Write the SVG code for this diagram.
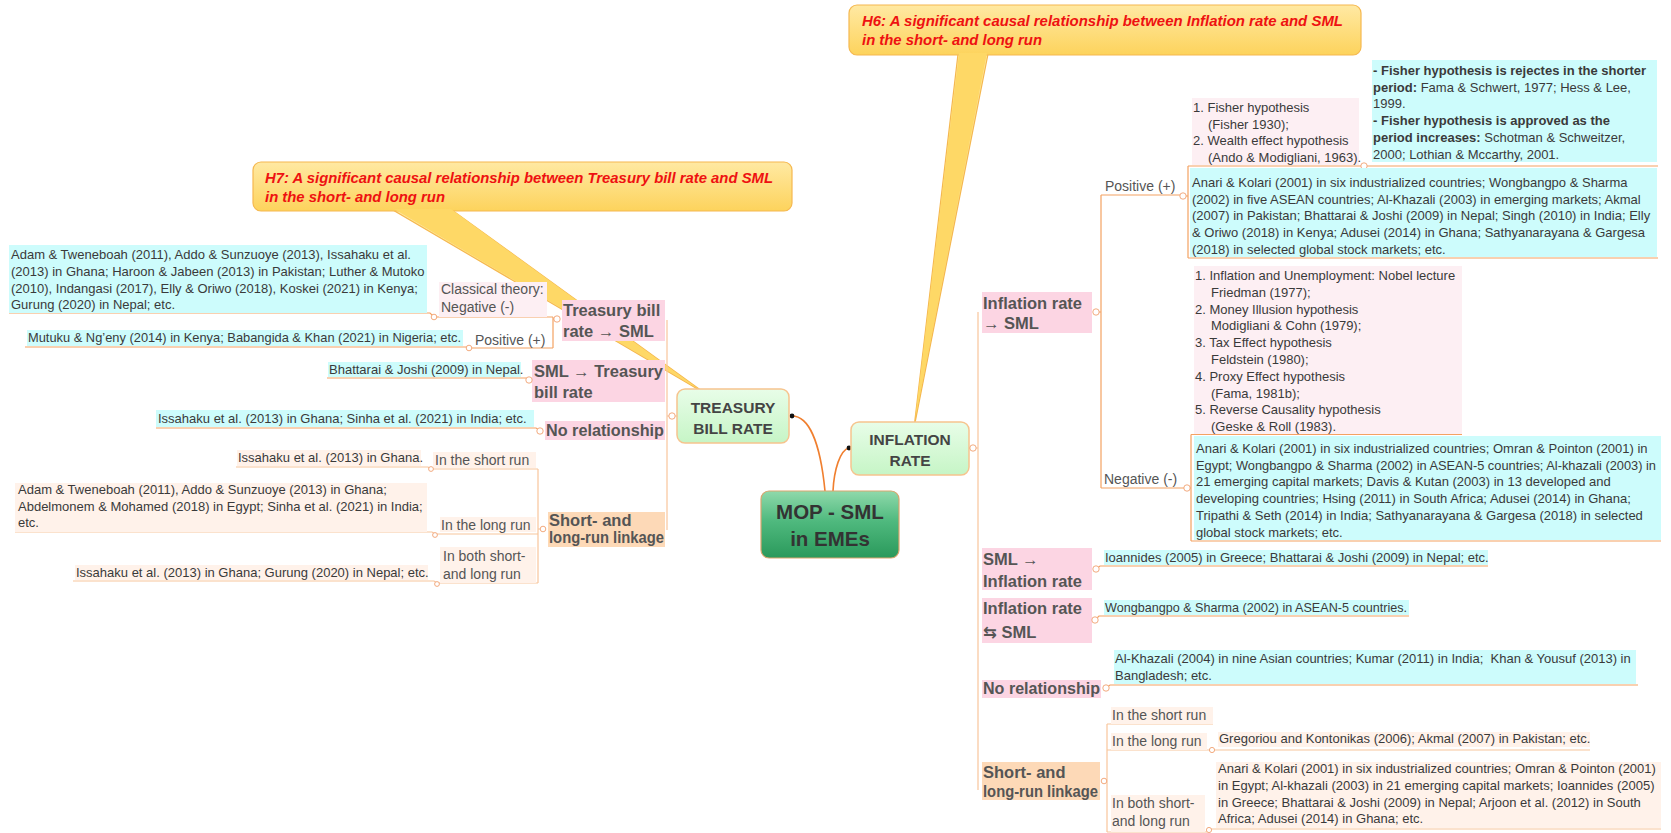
<svg xmlns="http://www.w3.org/2000/svg" width="1671" height="833" viewBox="0 0 1671 833">
<defs>
<linearGradient id="gc" x1="0" y1="0" x2="0" y2="1"><stop offset="0" stop-color="#8fd9ab"/><stop offset="0.45" stop-color="#4fb97e"/><stop offset="1" stop-color="#2a995b"/></linearGradient>
<linearGradient id="gm" x1="0" y1="0" x2="0" y2="1"><stop offset="0" stop-color="#e8fde8"/><stop offset="1" stop-color="#c6f5c6"/></linearGradient>
<linearGradient id="gy" x1="0" y1="0" x2="0" y2="1"><stop offset="0" stop-color="#ffe9a3"/><stop offset="1" stop-color="#fdd35c"/></linearGradient>
<style>
text{font-family:"Liberation Sans",Arial,"DejaVu Sans",sans-serif}
.t{font-size:13px;fill:#3a3a3a}
.b{font-weight:bold}
.lb{font-size:14px;fill:#555}
.hd{font-size:16.5px;font-weight:bold;fill:#555}
.cl{font-size:14.5px;font-weight:bold;font-style:italic;fill:#ee1111}
.cy{fill:#cdfcfc}
.pk{fill:#fcd5e3}
.lp{fill:#fdeff3}
.pc{fill:#fdd9b7}
.lc{fill:#fff2ea}
.ln{fill:none;stroke:#f4a262;stroke-width:1.2}
.lt{fill:none;stroke:#f8c59c;stroke-width:1.2}
.ci{fill:#fff;stroke:#f0a070;stroke-width:0.9}
.co{fill:url(#gy);stroke:#f5b850;stroke-width:1.2}
.mn{fill:url(#gm);stroke:#f6c48e;stroke-width:1.5}
.mt{font-size:15.5px;font-weight:bold;fill:#444;text-anchor:middle}
</style>
</defs>
<rect width="1671" height="833" fill="#fff"/>

<!-- callouts -->
<g id="callout-h7">
<polygon class="co" points="393,210 452,210 706,394"/>
<rect class="co" x="253" y="162" width="539" height="49" rx="8"/>
<polygon points="394,209 451,209 700,390" fill="#fed866"/>
<text class="cl" x="265" y="183" textLength="508" lengthAdjust="spacingAndGlyphs">H7: A significant causal relationship between Treasury bill rate and SML</text>
<text class="cl" x="265" y="202" textLength="180" lengthAdjust="spacingAndGlyphs">in the short- and long run</text>
</g>
<g id="callout-h6">
<polygon class="co" points="958,54 988,54 914,428"/>
<rect class="co" x="849" y="5" width="512" height="50" rx="8"/>
<polygon points="959,53 987,53 915,420" fill="#fed866"/>
<text class="cl" x="862" y="26" textLength="481" lengthAdjust="spacingAndGlyphs">H6: A significant causal relationship between Inflation rate and SML</text>
<text class="cl" x="862" y="45" textLength="180" lengthAdjust="spacingAndGlyphs">in the short- and long run</text>
</g>

<!-- connectors -->
<g id="connectors">
<path d="M792,416 C808,416 820,440 825,491" fill="none" stroke="#f07f2f" stroke-width="1.6"/>
<path d="M849,448 C840,450 834,470 833,491" fill="none" stroke="#f07f2f" stroke-width="1.6"/>
<circle cx="792" cy="416" r="2.4" fill="#111"/>
<circle cx="849" cy="448" r="2.4" fill="#111"/>
<!-- left side -->
<path class="lt" d="M677,416 H667 M667,320 V530"/>
<path class="ln" d="M557,319 H553 M553,317 V348"/>
<path class="ln" d="M9,313 H430 L434,317 H553"/>
<path class="ln" d="M25,347 H466 L469,348 H553"/>
<path class="ln" d="M327,378 H526 L530,381"/>
<path class="ln" d="M156,428 H536 L541,431"/>
<path class="lt" d="M543,529 H538 M538,469 V583"/>
<path class="lt" d="M236,467 H428 L431,469 H538"/>
<path class="lt" d="M15,532 H432 L435,534 H538"/>
<path class="lt" d="M73,581 H434 L437,583 H538"/>
<!-- right side -->
<path class="lt" d="M969,448 H978 M978,312 V790"/>
<path class="ln" d="M1096,312 H1101 M1101,195 V488"/>
<path class="ln" d="M1101,195 H1183"/>
<path class="ln" d="M1183,196 H1188 M1188,166 V258"/>
<path class="ln" d="M1188,166 H1658"/>
<path class="ln" d="M1188,258 H1658"/>
<path class="ln" d="M1101,488 H1191 M1191,434.5 V541"/>
<path class="ln" d="M1191,434.5 H1462"/>
<path class="ln" d="M1191,541 H1661"/>
<path class="ln" d="M1096,569 L1100,566 H1488"/>
<path class="ln" d="M1095,620 L1099,616 H1409"/>
<path class="ln" d="M1106,688 L1110,685 H1638"/>
<path class="lt" d="M1104,781 H1107 M1107,724 V832"/>
<path class="lt" d="M1107,724 H1213"/>
<path class="lt" d="M1107,750 H1590"/>
<path class="lt" d="M1107,832 H1207 L1210,829 H1661"/>
</g>

<!-- central nodes -->
<g id="node-central">
<rect x="761" y="491" width="138" height="67" rx="8" fill="url(#gc)" stroke="#d9a56e" stroke-width="1.2"/>
<text x="830" y="519" font-size="20.5" font-weight="bold" fill="#333" text-anchor="middle">MOP - SML</text>
<text x="830" y="546" font-size="20.5" font-weight="bold" fill="#333" text-anchor="middle">in EMEs</text>
</g>
<g id="node-treasury">
<rect class="mn" x="677" y="389" width="112" height="54" rx="8"/>
<text class="mt" x="733" y="413">TREASURY</text>
<text class="mt" x="733" y="434">BILL RATE</text>
<circle class="ci" cx="672" cy="416" r="3.2"/>
</g>
<g id="node-inflation">
<rect class="mn" x="851" y="422" width="118" height="53" rx="8"/>
<text class="mt" x="910" y="445">INFLATION</text>
<text class="mt" x="910" y="466">RATE</text>
<circle class="ci" cx="973" cy="448" r="3.2"/>
</g>

<!-- left branch -->
<g id="node-tb-sml">
<rect class="pk" x="562" y="300" width="103" height="41"/>
<text class="hd"><tspan x="563" y="316">Treasury bill</tspan><tspan x="563" y="337">rate → SML</tspan></text>
<circle class="ci" cx="557" cy="319" r="3.2"/>
</g>
<g id="node-classical">
<rect class="lp" x="439" y="282" width="108" height="35"/>
<text class="lb"><tspan x="441" y="294">Classical theory:</tspan><tspan x="441" y="312">Negative (-)</tspan></text>
</g>
<g id="node-l-neg-refs">
<rect class="cy" x="9" y="245" width="418" height="68"/>
<text class="t"><tspan x="11" y="259">Adam &amp; Tweneboah (2011), Addo &amp; Sunzuoye (2013), Issahaku et al.</tspan><tspan x="11" y="276">(2013) in Ghana; Haroon &amp; Jabeen (2013) in Pakistan; Luther &amp; Mutoko</tspan><tspan x="11" y="293">(2010), Indangasi (2017), Elly &amp; Oriwo (2018), Koskei (2021) in Kenya;</tspan><tspan x="11" y="309">Gurung (2020) in Nepal; etc.</tspan></text>
<circle class="ci" cx="434" cy="317" r="2.8"/>
</g>
<g id="node-l-positive">
<text class="lb" x="475" y="345">Positive (+)</text>
</g>
<g id="node-l-pos-refs">
<rect class="cy" x="27" y="330" width="436" height="16"/>
<text class="t" x="28" y="342" textLength="433" lengthAdjust="spacingAndGlyphs">Mutuku &amp; Ng’eny (2014) in Kenya; Babangida &amp; Khan (2021) in Nigeria; etc.</text>
<circle class="ci" cx="469" cy="348" r="2.8"/>
</g>
<g id="node-sml-tb">
<rect class="pk" x="532" y="360" width="133" height="42"/>
<text class="hd"><tspan x="534" y="377">SML → Treasury</tspan><tspan x="534" y="398">bill rate</tspan></text>
<circle class="ci" cx="529" cy="380" r="3.2"/>
</g>
<g id="node-l-sml-refs">
<rect class="cy" x="328" y="362" width="193" height="15"/>
<text class="t" x="329" y="374">Bhattarai &amp; Joshi (2009) in Nepal.</text>
</g>
<g id="node-l-norel">
<rect class="pk" x="545" y="421" width="120" height="19"/>
<text class="hd" x="546" y="436" textLength="118" lengthAdjust="spacingAndGlyphs">No relationship</text>
<circle class="ci" cx="540" cy="431" r="3.2"/>
</g>
<g id="node-l-norel-refs">
<rect class="cy" x="156" y="410" width="378" height="17"/>
<text class="t" x="158" y="423">Issahaku et al. (2013) in Ghana; Sinha et al. (2021) in India; etc.</text>
</g>
<g id="node-l-linkage">
<rect class="pc" x="548" y="512" width="117" height="35"/>
<text class="hd" font-size="15.5"><tspan x="549" y="526">Short- and</tspan><tspan x="549" y="543" textLength="115" lengthAdjust="spacingAndGlyphs">long-run linkage</tspan></text>
<circle class="ci" cx="543" cy="529" r="2.8"/>
</g>
<g id="node-l-short">
<rect class="lc" x="433" y="452" width="103" height="16"/>
<text class="lb" x="435" y="465">In the short run</text>
</g>
<g id="node-l-short-refs">
<rect class="lc" x="237" y="450" width="184" height="16"/>
<text class="t" x="238" y="462">Issahaku et al. (2013) in Ghana.</text>
<circle class="ci" cx="431" cy="469" r="2.4"/>
</g>
<g id="node-l-long">
<rect class="lc" x="440" y="517" width="96" height="15"/>
<text class="lb" x="441" y="530">In the long run</text>
</g>
<g id="node-l-long-refs">
<rect class="lc" x="15" y="483" width="412" height="49"/>
<text class="t"><tspan x="18" y="494">Adam &amp; Tweneboah (2011), Addo &amp; Sunzuoye (2013) in Ghana;</tspan><tspan x="18" y="511">Abdelmonem &amp; Mohamed (2018) in Egypt; Sinha et al. (2021) in India;</tspan><tspan x="18" y="527">etc.</tspan></text>
<circle class="ci" cx="435" cy="535" r="2.4"/>
</g>
<g id="node-l-both">
<rect class="lc" x="440" y="547" width="96" height="36"/>
<text class="lb"><tspan x="443" y="561">In both short-</tspan><tspan x="443" y="579">and long run</tspan></text>
</g>
<g id="node-l-both-refs">
<rect class="lc" x="75" y="565" width="353" height="15"/>
<text class="t" x="76" y="577">Issahaku et al. (2013) in Ghana; Gurung (2020) in Nepal; etc.</text>
<circle class="ci" cx="437" cy="584" r="2.4"/>
</g>

<!-- right branch -->
<g id="node-inf-sml">
<rect class="pk" x="982" y="292" width="110" height="41"/>
<text class="hd"><tspan x="983" y="309">Inflation rate</tspan><tspan x="983" y="329">→ SML</tspan></text>
<circle class="ci" cx="1096" cy="312" r="3.2"/>
</g>
<g id="node-r-positive">
<text class="lb" x="1105" y="191">Positive (+)</text>
<circle class="ci" cx="1183" cy="196" r="3.2"/>
</g>
<g id="node-r-pos-theory">
<rect class="lp" x="1192" y="98" width="167" height="67"/>
<text class="t" fill="#444"><tspan x="1193" y="112">1. Fisher hypothesis</tspan><tspan x="1208" y="128.7">(Fisher 1930);</tspan><tspan x="1193" y="145.4">2. Wealth effect hypothesis</tspan><tspan x="1208" y="162">(Ando &amp; Modigliani, 1963).</tspan></text>
<circle class="ci" cx="1364" cy="166" r="3.2"/>
</g>
<g id="node-r-fisher">
<rect class="cy" x="1372" y="60" width="285" height="102"/>
<text class="t"><tspan x="1373" y="75" class="b">- Fisher hypothesis is rejectes in the shorter</tspan><tspan x="1373" y="91.7"><tspan class="b">period:</tspan> Fama &amp; Schwert, 1977; Hess &amp; Lee,</tspan><tspan x="1373" y="108.4">1999.</tspan><tspan x="1373" y="125" class="b">- Fisher hypothesis is approved as the</tspan><tspan x="1373" y="141.8"><tspan class="b">period increases:</tspan> Schotman &amp; Schweitzer,</tspan><tspan x="1373" y="158.5">2000; Lothian &amp; Mccarthy, 2001.</tspan></text>
</g>
<g id="node-r-pos-refs">
<rect class="cy" x="1190" y="168" width="467" height="89"/>
<text class="t"><tspan x="1192" y="187">Anari &amp; Kolari (2001) in six industrialized countries; Wongbangpo &amp; Sharma</tspan><tspan x="1192" y="203.5">(2002) in five ASEAN countries; Al-Khazali (2003) in emerging markets; Akmal</tspan><tspan x="1192" y="220.2">(2007) in Pakistan; Bhattarai &amp; Joshi (2009) in Nepal; Singh (2010) in India; Elly</tspan><tspan x="1192" y="237">&amp; Oriwo (2018) in Kenya; Adusei (2014) in Ghana; Sathyanarayana &amp; Gargesa</tspan><tspan x="1192" y="253.5">(2018) in selected global stock markets; etc.</tspan></text>
</g>
<g id="node-r-negative">
<text class="lb" x="1104" y="484">Negative (-)</text>
<circle class="ci" cx="1187" cy="488" r="3.2"/>
</g>
<g id="node-r-neg-theory">
<rect class="lp" x="1194" y="266" width="268" height="168"/>
<text class="t" fill="#444"><tspan x="1195" y="280">1. Inflation and Unemployment: Nobel lecture</tspan><tspan x="1211" y="296.8">Friedman (1977);</tspan><tspan x="1195" y="313.6">2. Money Illusion hypothesis</tspan><tspan x="1211" y="330.4">Modigliani &amp; Cohn (1979);</tspan><tspan x="1195" y="347.2">3. Tax Effect hypothesis</tspan><tspan x="1211" y="364">Feldstein (1980);</tspan><tspan x="1195" y="380.8">4. Proxy Effect hypothesis</tspan><tspan x="1211" y="397.6">(Fama, 1981b);</tspan><tspan x="1195" y="414.4">5. Reverse Causality hypothesis</tspan><tspan x="1211" y="431.2">(Geske &amp; Roll (1983).</tspan></text>
</g>
<g id="node-r-neg-refs">
<rect class="cy" x="1194" y="436" width="467" height="104"/>
<text class="t"><tspan x="1196" y="453">Anari &amp; Kolari (2001) in six industrialized countries; Omran &amp; Pointon (2001) in</tspan><tspan x="1196" y="469.7" textLength="460" lengthAdjust="spacingAndGlyphs">Egypt; Wongbangpo &amp; Sharma (2002) in ASEAN-5 countries; Al-khazali (2003) in</tspan><tspan x="1196" y="486.4">21 emerging capital markets; Davis &amp; Kutan (2003) in 13 developed and</tspan><tspan x="1196" y="503">developing countries; Hsing (2011) in South Africa; Adusei (2014) in Ghana;</tspan><tspan x="1196" y="519.8">Tripathi &amp; Seth (2014) in India; Sathyanarayana &amp; Gargesa (2018) in selected</tspan><tspan x="1196" y="536.5">global stock markets; etc.</tspan></text>
</g>
<g id="node-sml-inf">
<rect class="pk" x="982" y="548" width="110" height="42"/>
<text class="hd"><tspan x="983" y="565">SML →</tspan><tspan x="983" y="587">Inflation rate</tspan></text>
<circle class="ci" cx="1096" cy="569" r="3.2"/>
</g>
<g id="node-r-sml-refs">
<rect class="cy" x="1104" y="550" width="384" height="15"/>
<text class="t" x="1105" y="562">Ioannides (2005) in Greece; Bhattarai &amp; Joshi (2009) in Nepal; etc.</text>
</g>
<g id="node-bidir">
<rect class="pk" x="982" y="598" width="110" height="45"/>
<text class="hd"><tspan x="983" y="614">Inflation rate</tspan><tspan x="983" y="638">⇆ SML</tspan></text>
<circle class="ci" cx="1095" cy="620" r="3.2"/>
</g>
<g id="node-r-bidir-refs">
<rect class="cy" x="1104" y="600" width="305" height="15"/>
<text class="t" x="1105" y="612" textLength="302" lengthAdjust="spacingAndGlyphs">Wongbangpo &amp; Sharma (2002) in ASEAN-5 countries.</text>
</g>
<g id="node-r-norel">
<rect class="pk" x="982" y="680" width="119" height="18"/>
<text class="hd" x="983" y="694" textLength="117" lengthAdjust="spacingAndGlyphs">No relationship</text>
<circle class="ci" cx="1106" cy="688" r="3.2"/>
</g>
<g id="node-r-norel-refs">
<rect class="cy" x="1114" y="650" width="522" height="34"/>
<text class="t"><tspan x="1115" y="663">Al-Khazali (2004) in nine Asian countries; Kumar (2011) in India;&#160; Khan &amp; Yousuf (2013) in</tspan><tspan x="1115" y="680">Bangladesh; etc.</tspan></text>
</g>
<g id="node-r-linkage">
<rect class="pc" x="982" y="762" width="118" height="38"/>
<text class="hd" font-size="15.5"><tspan x="983" y="778">Short- and</tspan><tspan x="983" y="797" textLength="115" lengthAdjust="spacingAndGlyphs">long-run linkage</tspan></text>
<circle class="ci" cx="1104" cy="781" r="2.8"/>
</g>
<g id="node-r-short">
<rect class="lc" x="1111" y="707" width="102" height="17"/>
<text class="lb" x="1112" y="720">In the short run</text>
</g>
<g id="node-r-long">
<rect class="lc" x="1111" y="733" width="96" height="17"/>
<text class="lb" x="1112" y="746">In the long run</text>
<circle class="ci" cx="1212" cy="750" r="2.6"/>
</g>
<g id="node-r-long-refs">
<rect class="lc" x="1218" y="732" width="372" height="15"/>
<text class="t" x="1219" y="743">Gregoriou and Kontonikas (2006); Akmal (2007) in Pakistan; etc.</text>
</g>
<g id="node-r-both">
<rect class="lc" x="1111" y="795" width="94" height="37"/>
<text class="lb"><tspan x="1112" y="808">In both short-</tspan><tspan x="1112" y="826">and long run</tspan></text>
<circle class="ci" cx="1209" cy="830" r="2.6"/>
</g>
<g id="node-r-both-refs">
<rect class="lc" x="1216" y="762" width="445" height="66"/>
<text class="t"><tspan x="1218" y="773">Anari &amp; Kolari (2001) in six industrialized countries; Omran &amp; Pointon (2001)</tspan><tspan x="1218" y="790">in Egypt; Al-khazali (2003) in 21 emerging capital markets; Ioannides (2005)</tspan><tspan x="1218" y="807">in Greece; Bhattarai &amp; Joshi (2009) in Nepal; Arjoon et al. (2012) in South</tspan><tspan x="1218" y="823">Africa; Adusei (2014) in Ghana; etc.</tspan></text>
</g>
</svg>
